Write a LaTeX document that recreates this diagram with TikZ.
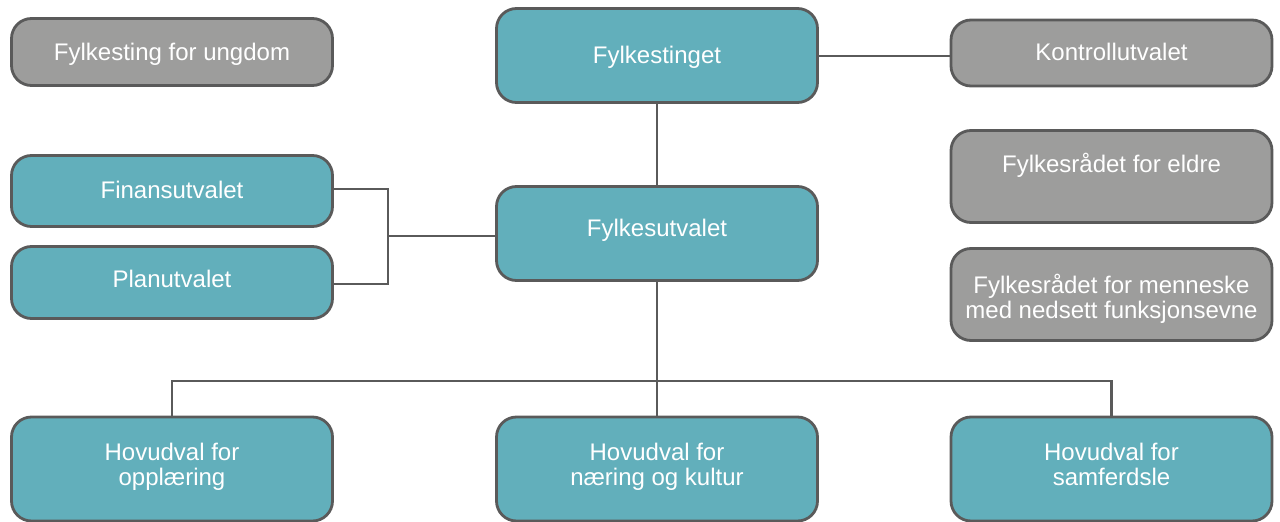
\documentclass[tikz,border=0pt]{standalone}
\usepackage{fontspec}
\setmainfont{Liberation Sans}
\definecolor{teal1}{HTML}{62AFBB}
\definecolor{gray1}{HTML}{9D9D9C}
\definecolor{edge1}{HTML}{5A5A5A}
\newcommand{\ls}{\strut}
\begin{document}
\begin{tikzpicture}[x=1pt,y=-1pt,
  box/.style={draw=edge1, line width=2.8pt, rounded corners=20pt, minimum width=321pt, inner sep=0pt},
  tbox/.style={box, fill=teal1},
  gbox/.style={box, fill=gray1},
  txt/.style={text=white, font=\fontsize{24}{24}\selectfont, align=center, inner sep=0pt},
  conn/.style={draw=edge1, line width=2.7pt}]
\useasboundingbox (0,0) rectangle (1280,522);
% boxes
\node[gbox, minimum height=67pt] (fu) at (172,52) {};
\node[tbox, minimum height=94pt] (ft) at (657,55.5) {};
\node[gbox, minimum height=66pt] (ku) at (1111.5,53) {};
\node[gbox, minimum height=92pt] (fe) at (1111.5,176.5) {};
\node[gbox, minimum height=92pt] (fm) at (1111.5,294.5) {};
\node[tbox, minimum height=71pt] (fi) at (172,191) {};
\node[tbox, minimum height=72pt] (pl) at (172,282.5) {};
\node[tbox, minimum height=94pt] (fv) at (657,233.5) {};
\node[tbox, minimum height=104pt] (h1) at (172,469) {};
\node[tbox, minimum height=104pt] (h2) at (657,469) {};
\node[tbox, minimum height=104pt] (h3) at (1111.5,469) {};
% texts
\node[txt] (tfu) at (172,55.5) {\ls Fylkesting for ungdom};
\node[txt] (tft) at (657,58.8) {\ls Fylkestinget};
\node[txt] (tku) at (1111.5,55.8) {\ls Kontrollutvalet};
\node[txt] (tfe) at (1111.5,166.3) {\ls Fylkesrådet for eldre};
\node[txt] (tfm) at (1111.5,299.8) {\ls Fylkesrådet for menneske\\\ls med nedsett funksjonsevne};
\node[txt] (tfi) at (172,193.8) {\ls Finansutvalet};
\node[txt] (tpl) at (172,282.8) {\ls Planutvalet};
\node[txt] (tfv) at (657,231.8) {\ls Fylkesutvalet};
\node[txt] (th1) at (172,467.8) {\ls Hovudval for\\\ls opplæring};
\node[txt] (th2) at (657,467.8) {\ls Hovudval for\\\ls næring og kultur};
\node[txt] (th3) at (1111.5,467.8) {\ls Hovudval for\\\ls samferdsle};
% connectors
\coordinate (y56) at (0,56);
\coordinate (y189) at (0,189);
\coordinate (y284) at (0,284);
\coordinate (jl) at (388,236);
\coordinate (bus) at (657,381);
\draw[conn] (ft.east |- y56) -- (ku.west |- y56);
\draw[conn] (ft.south) -- (fv.north);
\draw[conn] (fi.east |- y189) -| (jl) |- (pl.east |- y284);
\draw[conn] (jl) -- (fv.west |- jl);
\draw[conn] (fv.south) -- (h2.north);
\draw[conn] (h1.north) |- (bus) -| (h3.north);
\end{tikzpicture}
\end{document}
